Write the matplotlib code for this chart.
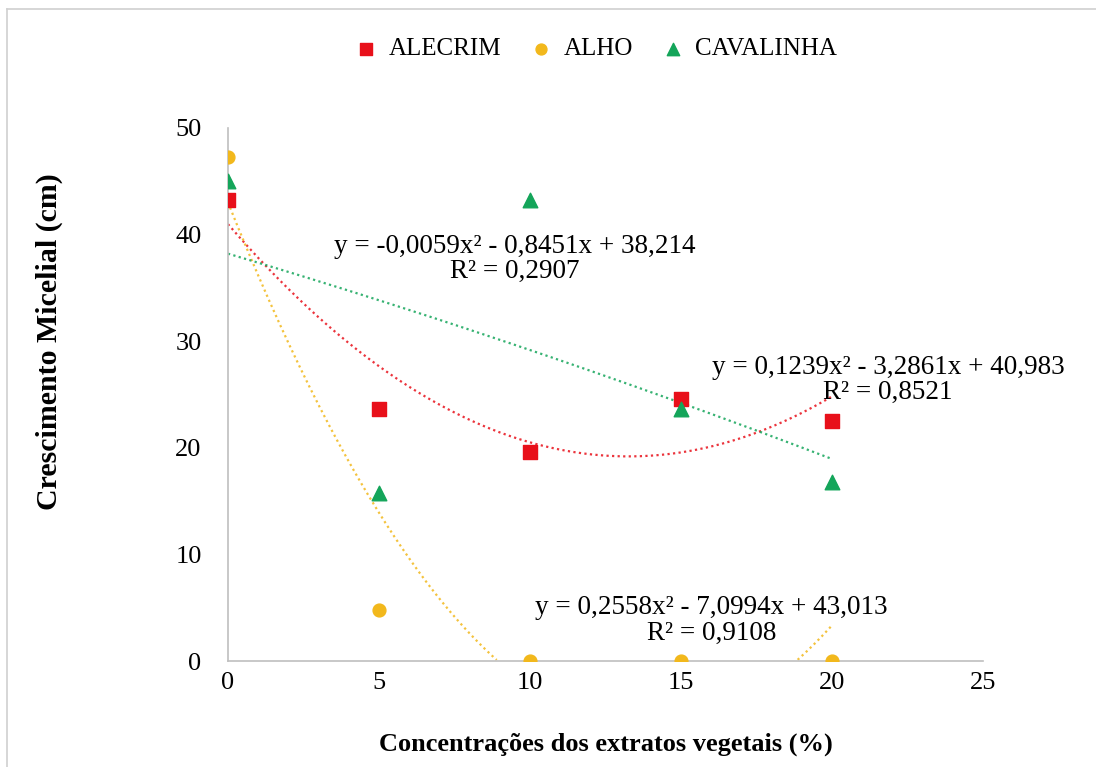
import matplotlib.pyplot as plt
import numpy as np
from matplotlib.lines import Line2D

plt.rcParams['font.family'] = ['Liberation Serif', 'DejaVu Serif']

# concentrations (%)
conc = [0, 5, 10, 15, 20]

# mycelial growth (cm) per extract
alecrim = [43.2, 23.6, 19.6, 24.6, 22.5]
alho = [47.3, 4.8, 0.0, 0.0, 0.0]
cavalinha = [45.0, 15.8, 43.2, 23.6, 16.8]

# trendline coefficients (a, b, c) for y = a x^2 + b x + c
coef_alecrim = [0.1239, -3.2861, 40.983]
coef_alho = [0.2558, -7.0994, 43.013]
coef_cavalinha = [-0.0059, -0.8451, 38.214]

eq_alecrim = 'y = 0,1239x² - 3,2861x + 40,983\nR² = 0,8521'
eq_alho = 'y = 0,2558x² - 7,0994x + 43,013\nR² = 0,9108'
eq_cavalinha = 'y = -0,0059x² - 0,8451x + 38,214\nR² = 0,2907'

red = '#E8101A'
gold = '#F2B81C'
green = '#14A55A'

fig = plt.figure(figsize=(10.96, 7.67), dpi=100)
ax = fig.add_axes([228/1096, 1-661/767, (983-228)/1096, (661-128)/767])

xs = np.linspace(0, 20, 300)
for coef, col in [(coef_alecrim, red), (coef_alho, gold), (coef_cavalinha, green)]:
    ys = np.polyval(coef, xs)
    ys = np.where(ys < 0, np.nan, ys)
    ax.plot(xs, ys, color=col, lw=1.6, ls=(0, (1, 1.5)), alpha=0.85, zorder=2)

ax.scatter(conc, alecrim, marker='s', s=115, color=red, label='ALECRIM', zorder=3)
ax.scatter(conc, alho, marker='o', s=85, color=gold, label='ALHO', zorder=3)
ax.scatter(conc, cavalinha, marker='^', s=110, color=green, label='CAVALINHA', zorder=3)

ax.text(9.5, 37.7, eq_cavalinha, fontsize=19.5, ha='center', va='center', linespacing=1.0)
ax.text(21.85, 26.35, eq_alecrim, fontsize=19.5, ha='center', va='center', linespacing=1.0)
ax.text(16.0, 3.8, eq_alho, fontsize=19.5, ha='center', va='center', linespacing=1.0)

ax.set_xlim(0, 25)
ax.set_ylim(0, 50)
ax.set_xticks([0, 5, 10, 15, 20, 25])
ax.set_yticks([0, 10, 20, 30, 40, 50])
ax.tick_params(length=0, labelsize=19)
ax.tick_params(axis='x', pad=8)
ax.tick_params(axis='y', pad=19)
for s in ['top', 'right']:
    ax.spines[s].set_visible(False)
for s in ['left', 'bottom']:
    ax.spines[s].set_color('#BFBFBF')
    ax.spines[s].set_linewidth(1.2)

ax.set_xlabel('Concentrações dos extratos vegetais (%)', fontsize=19, fontweight='bold', labelpad=28)
ax.set_ylabel('Crescimento Micelial (cm)', fontsize=21.5, fontweight='bold')
ax.yaxis.set_label_coords(-0.218, 0.60)

ax.legend(loc='center', bbox_to_anchor=(0.485, 1.148), ncol=3, frameon=False,
          fontsize=18, handlelength=1.2, handletextpad=0.3, columnspacing=1.0,
          markerscale=0.85)

# light frame lines along the top and left
fig.add_artist(Line2D([7/1096, 1], [1-9/767, 1-9/767], color='#D0D0D0', lw=1.2))
fig.add_artist(Line2D([7/1096, 7/1096], [0, 1-9/767], color='#D0D0D0', lw=1.2))

fig.savefig('out.png', dpi=100)
